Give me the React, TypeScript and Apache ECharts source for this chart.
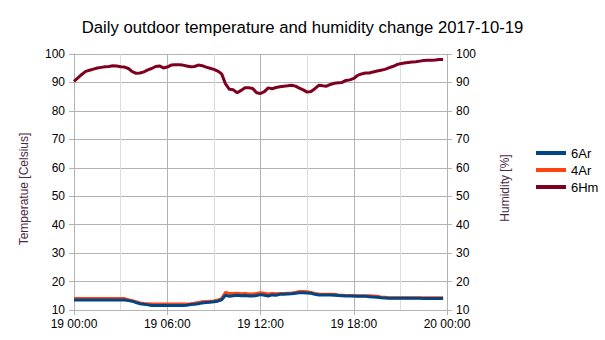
import React, { useEffect, useRef } from "react";
import * as echarts from "echarts";

const hours: number[] = [];
for (let i = 0; i < 96; i++) hours.push(i * 0.25);

const ar6: number[] = [
  13.5, 13.5, 13.5, 13.5, 13.5, 13.5, 13.5, 13.5, 13.5, 13.5, 13.5, 13.5, 13.5, 13.5, 13.3, 13.1,
  12.6, 12.2, 12.0, 11.8, 11.6, 11.6, 11.6, 11.6, 11.6, 11.6, 11.6, 11.6, 11.6, 11.7, 11.9, 12.0,
  12.2, 12.5, 12.6, 12.7, 12.9, 13.1, 13.6, 15.2, 14.8, 15.0, 15.2, 15.0, 15.1, 14.9, 14.9, 15.1,
  15.4, 15.2, 14.9, 15.3, 15.2, 15.5, 15.5, 15.6, 15.7, 15.9, 16.1, 16.1, 16.0, 15.9, 15.5, 15.3,
  15.3, 15.3, 15.3, 15.2, 15.1, 15.0, 14.9, 14.9, 14.9, 14.8, 14.8, 14.8, 14.7, 14.6, 14.5, 14.3,
  14.2, 14.1, 14.1, 14.1, 14.1, 14.1, 14.1, 14.1, 14.1, 14.1, 14.0, 14.0, 14.0, 14.0, 14.0, 14.0,
];

const ar4: number[] = [
  14.0, 14.0, 14.0, 14.0, 14.0, 14.0, 14.0, 14.0, 14.0, 14.0, 14.0, 14.0, 14.0, 14.0, 13.6, 13.3,
  12.9, 12.5, 12.3, 12.2, 12.1, 12.1, 12.1, 12.1, 12.1, 12.1, 12.1, 12.1, 12.1, 12.1, 12.2, 12.4,
  12.6, 12.9, 13.0, 13.1, 13.2, 13.5, 14.0, 16.2, 15.8, 15.8, 15.9, 15.7, 15.8, 15.6, 15.6, 15.8,
  16.1, 15.9, 15.6, 15.8, 15.7, 15.8, 15.8, 15.9, 16.0, 16.2, 16.5, 16.5, 16.4, 16.2, 15.8, 15.6,
  15.5, 15.5, 15.5, 15.5, 15.3, 15.2, 15.1, 15.1, 15.0, 15.0, 15.0, 15.0, 15.0, 14.9, 14.8, 14.6,
  14.5, 14.3, 14.3, 14.3, 14.3, 14.3, 14.3, 14.3, 14.3, 14.3, 14.3, 14.3, 14.3, 14.3, 14.3, 14.3,
];

const hm6: number[] = [
  90.4, 91.6, 92.8, 93.9, 94.3, 94.7, 95.1, 95.3, 95.5, 95.6, 95.9, 95.8, 95.5, 95.4, 94.9, 93.8,
  93.2, 93.3, 93.7, 94.4, 94.9, 95.6, 95.8, 95.1, 95.4, 96.1, 96.2, 96.2, 96.1, 95.8, 95.5, 95.6,
  96.1, 95.9, 95.4, 95.0, 94.6, 94.0, 93.0, 89.5, 87.6, 87.4, 86.4, 87.2, 88.1, 88.1, 87.9, 86.4,
  86.1, 86.8, 88.1, 87.8, 88.2, 88.5, 88.7, 88.8, 89.0, 88.7, 88.0, 87.4, 86.6, 86.8, 87.8, 89.0,
  88.8, 88.7, 89.3, 89.7, 89.9, 90.0, 90.7, 90.9, 91.4, 92.5, 93.0, 93.3, 93.3, 93.7, 94.0, 94.3,
  94.6, 95.1, 95.6, 96.2, 96.6, 96.8, 97.0, 97.2, 97.3, 97.5, 97.7, 97.8, 97.8, 97.9, 98.1, 98.1,
];

const seriesNames = ["6Ar", "4Ar", "6Hm"];
const titleText = "Daily outdoor temperature and humidity change 2017-10-19";

const pad = (n: number) => (n < 10 ? "0" + n : "" + n);
const xLabel = (v: number) => (v >= 24 ? "20 00:00" : "19 " + pad(v) + ":00");

const FONT = "Liberation Sans";

export default function App() {
  const ref = useRef<HTMLDivElement>(null);
  useEffect(() => {
    if (!ref.current) return;
    const chart = echarts.init(ref.current, null, { renderer: "svg" });
    const pair = (arr: number[]) => hours.map((h, i) => [h, arr[i]]);
    const axisLineStyle = { color: "#b3b3b3", width: 1 };
    chart.setOption({
      animation: false,
      textStyle: { fontFamily: FONT },
      title: {
        text: titleText,
        left: "center",
        top: 14,
        textStyle: { fontFamily: FONT, fontSize: 16.7, fontWeight: "normal", color: "#000" },
      },
      legend: {
        orient: "vertical",
        left: 531,
        top: 141,
        itemWidth: 30,
        itemHeight: 4,
        itemGap: 3,
        icon: "rect",
        data: seriesNames,
        textStyle: { fontFamily: FONT, fontSize: 13, color: "#000", lineHeight: 14 },
      },
      grid: { left: 74, right: 158, top: 54, bottom: 30 },
      xAxis: {
        type: "value",
        min: 0,
        max: 24,
        interval: 6,
        axisLine: { show: true, lineStyle: axisLineStyle },
        axisTick: { show: true, length: 5, lineStyle: axisLineStyle },
        axisLabel: { formatter: xLabel, fontFamily: FONT, fontSize: 12, color: "#000", margin: 8 },
        splitLine: { show: true, lineStyle: { color: "#b3b3b3" } },
        minorTick: { show: false, splitNumber: 2 },
        minorSplitLine: { show: true, lineStyle: { color: "#dddddd" } },
      },
      yAxis: [
        {
          type: "value",
          min: 10,
          max: 100,
          interval: 10,
          name: "Temperatue [Celsius]",
          nameLocation: "middle",
          nameGap: 44,
          nameTextStyle: { fontFamily: FONT, fontSize: 12, color: "#4a2a44", padding: [0, 14, 0, 0] },
          axisLine: { show: true, lineStyle: axisLineStyle },
          axisTick: { show: true, length: 5, lineStyle: axisLineStyle },
          axisLabel: { fontFamily: FONT, fontSize: 12, color: "#000", margin: 9 },
          splitLine: { show: true, lineStyle: { color: "#b3b3b3" } },
        },
        {
          type: "value",
          min: 10,
          max: 100,
          interval: 10,
          position: "right",
          name: "Humidity [%]",
          nameLocation: "middle",
          nameGap: 52,
          nameRotate: 90,
          nameTextStyle: { fontFamily: FONT, fontSize: 12, color: "#4a2a44", padding: [0, 12, 0, 0] },
          axisLine: { show: true, lineStyle: axisLineStyle },
          axisTick: { show: true, length: 5, lineStyle: axisLineStyle },
          axisLabel: { fontFamily: FONT, fontSize: 12, color: "#000", margin: 9 },
          splitLine: { show: false },
        },
      ],
      series: [
        {
          name: "6Ar",
          type: "line",
          yAxisIndex: 0,
          data: pair(ar6),
          showSymbol: false,
          z: 4,
          color: "#004586",
          lineStyle: { width: 3, color: "#004586" },
        },
        {
          name: "4Ar",
          type: "line",
          yAxisIndex: 0,
          data: pair(ar4),
          showSymbol: false,
          z: 3,
          color: "#ff420e",
          lineStyle: { width: 3, color: "#ff420e" },
        },
        {
          name: "6Hm",
          type: "line",
          yAxisIndex: 1,
          data: pair(hm6),
          showSymbol: false,
          z: 3,
          color: "#7e0021",
          lineStyle: { width: 3, color: "#7e0021" },
        },
      ],
    });
    return () => chart.dispose();
  }, []);
  return <div ref={ref} style={{ width: 605, height: 340, position: "absolute", left: 0, top: 0 }} />;
}
